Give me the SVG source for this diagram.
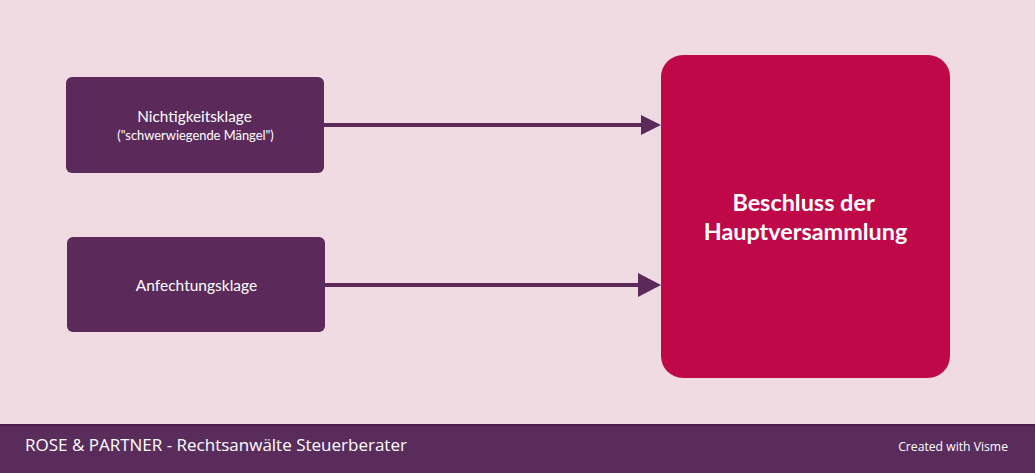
<svg xmlns="http://www.w3.org/2000/svg" width="1035" height="473" viewBox="0 0 1035 473">
<defs>
<style>
.src{fill:#5b2a5b;}
.lbl{font-family:Lato,"Open Sans",sans-serif;fill:#ffffff;text-anchor:middle;}
.conn{stroke:#5b2a5b;stroke-width:4;fill:none;}
.head{fill:#5b2a5b;}
</style>
</defs>
<rect x="0" y="0" width="1035" height="473" fill="#f0dbe2"/>
<g id="node-nichtigkeitsklage">
<rect class="src" x="66" y="77" width="258" height="96" rx="6"/>
<text class="lbl" x="194.5" y="121.5" font-size="15.3">Nichtigkeitsklage</text>
<text class="lbl" x="195.5" y="140" font-size="12.9">("schwerwiegende Mängel")</text>
</g>
<g id="node-anfechtungsklage">
<rect class="src" x="67" y="237" width="258" height="95" rx="6"/>
<text class="lbl" x="196.5" y="291" font-size="15.5">Anfechtungsklage</text>
</g>
<g id="node-beschluss">
<rect x="661" y="55" width="289" height="323" rx="22" fill="#be0847"/>
<text class="lbl" x="803.5" y="211" font-size="23.4" font-weight="bold">Beschluss der</text>
<text class="lbl" x="805.5" y="240" font-size="23.4" font-weight="bold">Hauptversammlung</text>
</g>
<g id="connectors">
<line class="conn" x1="324" y1="125" x2="642" y2="125"/>
<polygon class="head" points="641,115 661,125 641,135"/>
<line class="conn" x1="325" y1="285" x2="639" y2="285"/>
<polygon class="head" points="638,273 661,285 638,297"/>
</g>
<g id="footer">
<rect x="0" y="424" width="1035" height="49" fill="#5a2c5b"/>
<rect x="0" y="424" width="1035" height="2" fill="#4a1f4b"/>
<text x="25" y="451" font-family="'Open Sans',sans-serif" font-size="17" fill="#ffffff">ROSE &amp; PARTNER - Rechtsanwälte Steuerberater</text>
<text x="1008" y="451" font-family="'Open Sans',sans-serif" font-size="12.2" fill="#ffffff" text-anchor="end">Created with Visme</text>
</g>
</svg>
